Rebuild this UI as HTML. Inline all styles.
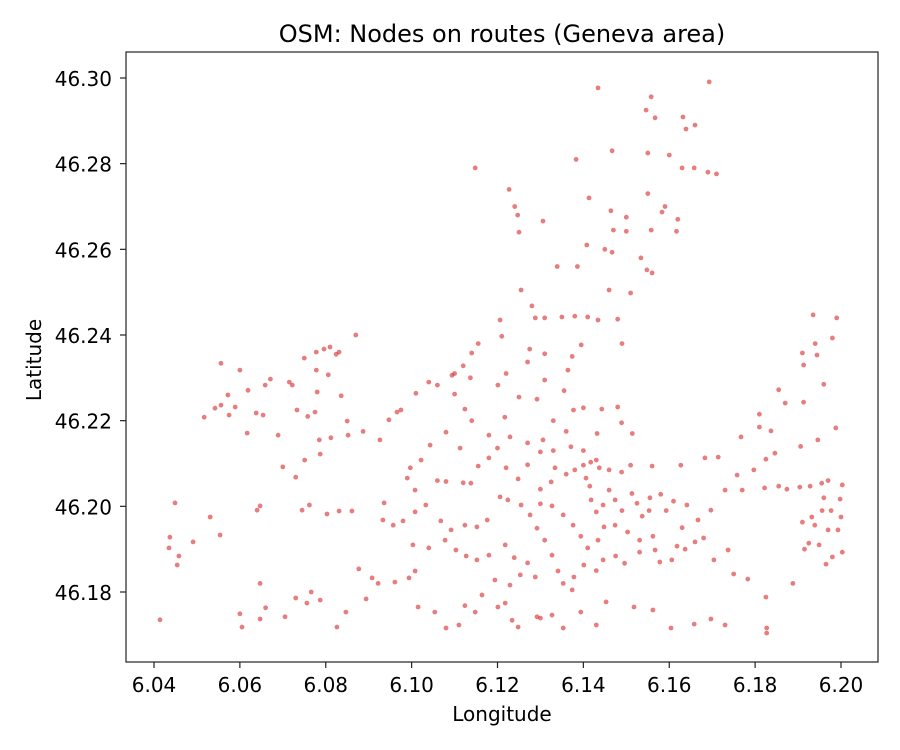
<!DOCTYPE html>
<html><head><meta charset="utf-8"><style>
body{margin:0;background:#fff;}
svg{display:block;font-family:"DejaVu Sans","Liberation Sans",sans-serif;}
</style></head><body>
<svg id="chart" width="900" height="750" xmlns="http://www.w3.org/2000/svg">
<rect width="900" height="750" fill="#fff"/>
<text x="502" y="42" font-size="24" text-anchor="middle" fill="#000">OSM: Nodes on routes (Geneva area)</text>
<text x="502" y="721" font-size="20" text-anchor="middle" fill="#000">Longitude</text>
<text x="41" y="360" font-size="20" text-anchor="middle" fill="#000" transform="rotate(-90 41 360)">Latitude</text>
<g id="points"></g>
<g id="axes"></g>
<rect x="126" y="52" width="752" height="610" fill="none" stroke="#222" stroke-width="1.2"/>
</svg>
<script>
const lons = [6.1693,6.1434,6.1558,6.1546,6.1567,6.1632,6.1639,6.166,6.1467,6.155,6.160,6.1658,6.169,6.171,6.163,6.1383,6.1148,6.1413,6.1227,6.124,6.1247,6.1306,6.1464,6.150,6.1583,6.162,6.159,6.155,6.125,6.150,6.147,6.1617,6.1558,6.145,6.1467,6.1408,6.1534,6.1548,6.156,6.1339,6.1386,6.146,6.151,6.1255,6.128,6.1288,6.131,6.135,6.138,6.141,6.1434,6.148,6.149,6.1206,6.1155,6.114,6.121,6.1275,6.131,6.1374,6.1395,6.1364,6.127,6.122,6.1201,6.1137,6.1094,6.110,6.112,6.106,6.104,6.101,6.0975,6.0966,6.0947,6.0926,6.0887,6.087,6.110,6.1124,6.114,6.118,6.1217,6.125,6.1292,6.131,6.1355,6.1377,6.140,6.1443,6.148,6.1489,6.1514,6.1432,6.136,6.133,6.1306,6.127,6.1229,6.120,6.1113,6.108,6.1043,6.1022,6.0997,6.099,6.1008,6.106,6.108,6.112,6.1138,6.1155,6.118,6.122,6.1248,6.127,6.130,6.133,6.1371,6.140,6.1417,6.143,6.1437,6.146,6.1489,6.151,6.156,6.1627,6.1683,6.1714,6.1767,6.181,6.1837,6.181,6.187,6.1855,6.1913,6.196,6.1913,6.191,6.1944,6.194,6.198,6.199,6.1935,6.1988,6.1946,6.1906,6.1846,6.1825,6.1797,6.1758,6.173,6.177,6.1822,6.1855,6.1874,6.1904,6.1928,6.1955,6.197,6.2003,6.1998,6.196,6.1956,6.1977,6.200,6.1932,6.191,6.1939,6.197,6.1993,6.1925,6.1949,6.1915,6.2003,6.198,6.1965,6.1888,6.1783,6.175,6.1737,6.1704,6.168,6.166,6.1637,6.1618,6.1606,6.163,6.1667,6.1697,6.1641,6.161,6.1593,6.158,6.1555,6.1553,6.1537,6.1525,6.1513,6.149,6.1474,6.146,6.1446,6.143,6.1418,6.1415,6.1406,6.14,6.138,6.136,6.1334,6.1325,6.13,6.13,6.1327,6.1353,6.1376,6.1394,6.141,6.1434,6.1448,6.1474,6.1503,6.1531,6.1562,6.1567,6.1578,6.1531,6.1496,6.1475,6.1446,6.143,6.1401,6.1378,6.1374,6.1353,6.1341,6.1327,6.131,6.1292,6.1276,6.1255,6.1224,6.1206,6.1176,6.1152,6.1124,6.1092,6.1068,6.1033,6.1008,6.098,6.0957,6.0933,6.0936,6.1003,6.104,6.1078,6.1103,6.1127,6.1152,6.118,6.1218,6.1239,6.127,6.1288,6.1253,6.1229,6.1194,6.1164,6.1201,6.1218,6.1234,6.1248,6.1292,6.13,6.1327,6.1353,6.1394,6.143,6.1453,6.1518,6.1562,6.1604,6.1658,6.1697,6.173,6.1825,6.1827,6.1827,6.1148,6.1124,6.111,6.108,6.1054,6.1015,6.0994,6.1008,6.0961,6.0922,6.0908,6.0894,6.0877,6.0847,6.0826,6.0787,6.0766,6.0756,6.073,6.0705,6.066,6.0647,6.0605,6.06,6.0647,6.0554,6.0531,6.0491,6.0449,6.0437,6.0435,6.0454,6.0458,6.0414,6.064,6.0647,6.0745,6.0762,6.0803,6.0831,6.0861,6.073,6.07,6.0751,6.0787,6.0785,6.0812,6.0852,6.085,6.0775,6.0758,6.0733,6.0689,6.0617,6.0589,6.0575,6.0556,6.0517,6.0542,6.0572,6.0556,6.06,6.0619,6.0638,6.0654,6.0659,6.0671,6.0715,6.0722,6.075,6.0778,6.0796,6.081,6.0824,6.0831,6.0780,6.0806,6.0836,6.0778];
const lats = [46.2991,46.2977,46.2956,46.2925,46.2907,46.2909,46.2881,46.289,46.283,46.2825,46.282,46.279,46.278,46.2776,46.279,46.281,46.279,46.272,46.274,46.270,46.268,46.2666,46.269,46.2675,46.2687,46.267,46.270,46.273,46.264,46.2642,46.2645,46.2642,46.2645,46.260,46.2593,46.261,46.258,46.2552,46.2545,46.256,46.256,46.2505,46.2498,46.2505,46.2468,46.244,46.244,46.2442,46.2444,46.2442,46.2435,46.2437,46.238,46.2435,46.238,46.2358,46.2397,46.2367,46.2356,46.235,46.2377,46.2318,46.2337,46.231,46.2283,46.230,46.2306,46.231,46.2328,46.2283,46.229,46.2264,46.2225,46.222,46.2202,46.2155,46.2175,46.240,46.2262,46.2227,46.22,46.2166,46.2208,46.2255,46.225,46.2295,46.227,46.2225,46.223,46.2227,46.2232,46.2195,46.217,46.217,46.2175,46.22,46.2155,46.2148,46.2162,46.2136,46.2136,46.2173,46.2143,46.2108,46.209,46.2066,46.2038,46.206,46.2058,46.2055,46.2054,46.2094,46.2113,46.209,46.2064,46.2097,46.2127,46.213,46.2139,46.213,46.2103,46.2108,46.209,46.2085,46.208,46.2096,46.2094,46.2096,46.2113,46.2115,46.2162,46.2185,46.2176,46.2215,46.2241,46.2272,46.2243,46.2285,46.233,46.2358,46.2353,46.238,46.2393,46.244,46.2447,46.2183,46.2155,46.214,46.2124,46.211,46.2085,46.2073,46.2038,46.2038,46.2043,46.2047,46.204,46.2045,46.2047,46.2054,46.206,46.205,46.2017,46.202,46.199,46.199,46.1975,46.1975,46.1963,46.1956,46.1945,46.1945,46.1914,46.191,46.19,46.1893,46.1882,46.1865,46.182,46.183,46.1842,46.1898,46.1875,46.1926,46.1917,46.19,46.1907,46.1875,46.195,46.1968,46.1991,46.2003,46.2012,46.199,46.2028,46.202,46.199,46.1977,46.2007,46.203,46.199,46.2015,46.2038,46.2003,46.1987,46.2015,46.2047,46.2066,46.2096,46.2085,46.2075,46.209,46.2057,46.204,46.2006,46.2001,46.198,46.1956,46.193,46.1903,46.1921,46.1952,46.1956,46.194,46.1921,46.193,46.1898,46.187,46.1893,46.1867,46.1884,46.1875,46.185,46.1863,46.1835,46.1805,46.182,46.1849,46.1886,46.1921,46.1949,46.198,46.2003,46.2015,46.2022,46.1968,46.1952,46.1956,46.1945,46.1966,46.2003,46.1987,46.1966,46.1956,46.1968,46.2008,46.191,46.1903,46.1921,46.1898,46.1884,46.1875,46.1886,46.191,46.188,46.1868,46.1835,46.184,46.1816,46.1828,46.1793,46.1765,46.1774,46.1734,46.1718,46.1742,46.1739,46.1746,46.1716,46.1753,46.1723,46.1777,46.1765,46.1758,46.1716,46.1725,46.1737,46.1723,46.1788,46.1716,46.1704,46.1753,46.1768,46.1723,46.1716,46.1753,46.1765,46.1833,46.1849,46.1823,46.182,46.1833,46.1784,46.1854,46.1753,46.1718,46.1781,46.18,46.1774,46.1786,46.1742,46.1763,46.1737,46.1718,46.1749,46.182,46.1933,46.1975,46.1917,46.2008,46.1928,46.1903,46.1863,46.1884,46.1735,46.1991,46.2001,46.1991,46.2003,46.1982,46.1989,46.1989,46.2068,46.2092,46.2108,46.2122,46.2155,46.216,46.2166,46.2199,46.222,46.221,46.2225,46.2166,46.2171,46.2232,46.2213,46.2236,46.2208,46.2229,46.226,46.2334,46.2318,46.2271,46.2218,46.2213,46.2283,46.2297,46.229,46.2283,46.2346,46.236,46.2367,46.2372,46.2355,46.236,46.2267,46.2307,46.2258,46.2318];
const xTicks = [6.04,6.06,6.08,6.10,6.12,6.14,6.16,6.18,6.20];
const yTicks = [46.18,46.20,46.22,46.24,46.26,46.28,46.30];

const NS = "http://www.w3.org/2000/svg";
function xs(v){ return 154 + (v - 6.04) * (687 / 0.16); }
function ys(v){ return 78 + (46.30 - v) * (514 / 0.12); }

const pg = document.getElementById('points');
for (let i = 0; i < lons.length; i++) {
  const c = document.createElementNS(NS, 'circle');
  c.setAttribute('cx', xs(lons[i]).toFixed(1));
  c.setAttribute('cy', ys(lats[i]).toFixed(1));
  c.setAttribute('r', '2.4');
  c.setAttribute('fill', '#d62728');
  c.setAttribute('fill-opacity', '0.6');
  
  
  pg.appendChild(c);
}
const ax = document.getElementById('axes');
xTicks.forEach(t => {
  const x = xs(t);
  const l = document.createElementNS(NS, 'line');
  l.setAttribute('x1', x); l.setAttribute('x2', x);
  l.setAttribute('y1', 662); l.setAttribute('y2', 668);
  l.setAttribute('stroke', '#222');
  l.setAttribute('stroke-width', '1.2');
  
  
  ax.appendChild(l);
  const tx = document.createElementNS(NS, 'text');
  tx.setAttribute('x', x); tx.setAttribute('y', 692);
  tx.setAttribute('text-anchor', 'middle');
  tx.setAttribute('font-size', '20');
  tx.textContent = t.toFixed(2);
  
  
  ax.appendChild(tx);
});
yTicks.forEach(t => {
  const y = ys(t);
  const l = document.createElementNS(NS, 'line');
  l.setAttribute('x1', 120); l.setAttribute('x2', 126);
  l.setAttribute('y1', y); l.setAttribute('y2', y);
  l.setAttribute('stroke', '#222');
  l.setAttribute('stroke-width', '1.2');
  
  
  ax.appendChild(l);
  const tx = document.createElementNS(NS, 'text');
  tx.setAttribute('x', 112); tx.setAttribute('y', y + 8);
  tx.setAttribute('text-anchor', 'end');
  tx.setAttribute('font-size', '20');
  tx.textContent = t.toFixed(2);
  
  
  ax.appendChild(tx);
});
</script>
</body></html>
